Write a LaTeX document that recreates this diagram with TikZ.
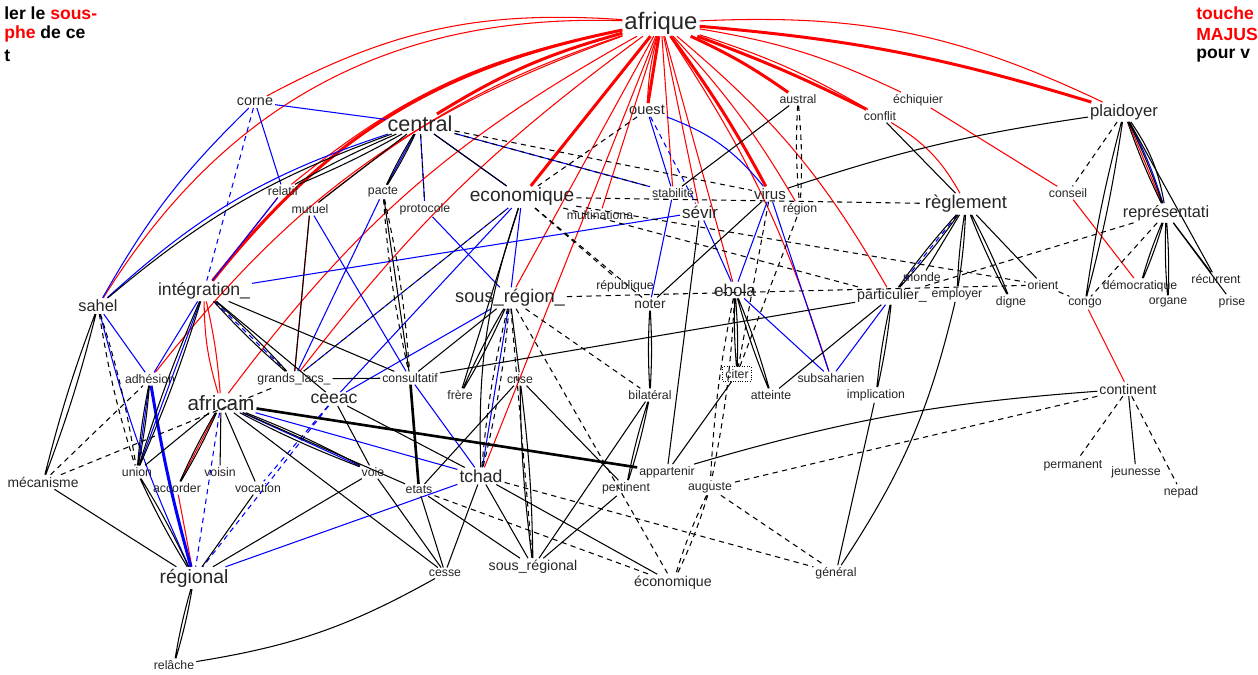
\documentclass[tikz,border=0pt]{standalone}
\usepackage{fontspec}
\setmainfont{Liberation Sans}
\usetikzlibrary{backgrounds}

\begin{document}
\begin{tikzpicture}[
    % one unit is one pixel of the reference
    x=0.02cm, y=-0.02cm,
    % Define the style for the words
    word/.style={inner sep=1pt, text=black!85},
    citebox/.style={word, draw, densely dotted, inner sep=1.5pt},
    hint/.style={anchor=west, inner sep=0pt, font=\bfseries\fontsize{10}{12}\selectfont},
    % Define the styles for the links
    link/.style={line width=0.6pt},
    rl/.style={link, red},
    rk/.style={red, line width=1.7pt},
    bl/.style={link, blue},
    bk/.style={blue, line width=1.7pt},
    bd/.style={link, blue, dash pattern=on 3pt off 2.5pt},
    kl/.style={link, black},
    kd/.style={link, black, dash pattern=on 3pt off 2.5pt},
    kk/.style={black, line width=1.5pt}
]

    \useasboundingbox (0,0) rectangle (1258,675);

    % --- The words ---
    \foreach \n/\x/\y/\s/\t in {
        afrique/661/23/13.6/afrique, central/420/124/12.3/central,
        africain/221/403/11.8/africain, economique/522/197/10.9/economique,
        regional/194/578/11/régional, integration/204/291/10/intégration\_,
        sousregion/510/298/10.4/sous\_région\_, reglement/966/204/10.5/règlement,
        ceeac/334/399/10/ceeac, tchad/481/476/10/tchad,
        ebola/735/290/9.7/ebola, sevir/700/212/9.7/sévir,
        plaidoyer/1124/112/9.5/plaidoyer, sahel/98/306/9.3/sahel,
        represent/1166/213/9.3/représentati, virus/770/194/8.6/virus,
        corne/255/102/8.2/corne, ouest/647/110/8.3/ouest,
        noter/650/304/7.8/noter, particulier/892/296/8.1/particulier\_,
        continent/1128/389/8/continent, mecanisme/43/482/7.9/mécanisme,
        sousregional/533/567/8.1/sous\_régional, econ/673/583/8.1/économique,
        austral/798/99/7/austral, echiquier/918/100/7/échiquier,
        conflit/880/116/7/conflit, relatif/283/191/7/relatif,
        mutuel/310/209/7/mutuel, pacte/383/192/7/pacte,
        protocole/425/209/7/protocole, multi/600/215/7/multinationa,
        stabilite/673/193/7/stabilité, region/800/209/7/région,
        conseil/1068/193/7/conseil, republique/625/286/7/république,
        monde/922/277/7/monde, employer/957/294/7/employer,
        orient/1043/285/7/orient, digne/1011/302/7/digne,
        congo/1085/303/7/congo, democratique/1140/286/7/démocratique,
        organe/1168/302/7/organe, recurrent/1216/279/7/récurrent,
        prise/1232/302/7/prise, adhesion/150/379/7/adhésion,
        grandslacs/294/379/7/grands\_lacs\_, consultatif/410/378/7/consultatif,
        frere/460/395/7/frère, crise/520/379/7/crise,
        bilateral/650/395/7/bilatéral, atteinte/771/395/7/atteinte,
        subsaharien/831/378/7/subsaharien, implication/876/395/7/implication,
        union/137/472/7/union, accorder/177/488/7/accorder,
        voisin/220/472/7/voisin, vocation/258/488/7/vocation,
        voie/373/472/7/voie, etats/419/490/7/etats,
        appartenir/667/472/7/appartenir, pertinent/626/488/7/pertinent,
        auguste/710/488/7/auguste, permanent/1073/466/7/permanent,
        jeunesse/1136/472/7/jeunesse, nepad/1181/492/7/nepad,
        cesse/445/573/7/cesse, general/836/573/7/général,
        relache/174/665/7/relâche} {
        \node[word, font=\fontsize{\s}{\s}\selectfont] (\n) at (\x,\y) {\t};
    }
    \node[citebox, font=\fontsize{7}{7}\selectfont] (citer) at (737,374) {citer};

    % --- Hints in the corners ---
    \node[hint] (hintL1) at (4,13) {ler le \textcolor{red}{sous-}};
    \node[hint] (hintL2) at (4,34) {\textcolor{red}{phe} de ce};
    \node[hint] (hintL3) at (4,56) {t};
    \node[hint, text=red] (hintR1) at (1196,13) {touche};
    \node[hint, text=red] (hintR2) at (1196,34) {MAJUS};
    \node[hint] (hintR3) at (1196,56) {pour v};

    \begin{scope}[on background layer]
    \fill[white] (0,0) rectangle (1258,675);

    % --- Red links from afrique ---
    \foreach \b/\k in {corne/16, sahel/30, relatif/14, mutuel/10, grandslacs/8, africain/12, adhesion/16}
        \draw[rl] (afrique) to[bend right=\k] (\b);
    \foreach \b/\k in {integration/20, central/8}
        \draw[rk] (afrique) to[bend right=\k] (\b);
    \foreach \b in {multi, sousregion, tchad, stabilite, sevir, ebola}
        \draw[rl] (afrique) -- (\b);
    \draw[rl] (afrique) to[bend right=6] (ouest);
    \foreach \b in {economique, ouest}
        \draw[rk] (afrique) -- (\b);
    \foreach \b/\k in {region/6, subsaharien/8, particulier/10, echiquier/8, conflit/6, plaidoyer/14}
        \draw[rl] (afrique) to[bend left=\k] (\b);
    \foreach \b/\k in {virus/4, austral/5, conflit/3, plaidoyer/6}
        \draw[rk] (afrique) to[bend left=\k] (\b);

    % --- Other red links ---
    \foreach \a/\b in {echiquier/conseil, conseil/democratique, congo/continent, plaidoyer/represent,
        africain/accorder, accorder/regional, mutuel/grandslacs, relatif/integration}
        \draw[rl] (\a) -- (\b);
    \draw[rl] (conflit) to[bend left=15] (reglement);
    \draw[rl] (integration) to[bend left=4] (africain) (integration) to[bend right=8] (africain);

    % --- Blue links ---
    \foreach \a/\b in {corne/central, central/stabilite, corne/relatif, central/pacte, central/protocole,
        central/economique, sevir/integration, ouest/stabilite, stabilite/noter, sevir/ebola,
        virus/ebola, virus/subsaharien, ebola/subsaharien, particulier/subsaharien,
        integration/adhesion, sahel/adhesion, adhesion/union, africain/voie, africain/tchad,
        tchad/regional, sousregion/ceeac, sousregion/tchad, consultatif/tchad, economique/ceeac,
        mutuel/consultatif, pacte/grandslacs, protocole/sousregion, economique/sousregion,
        integration/union, relatif/integration}
        \draw[bl] (\a) -- (\b);
    \draw[bl] (plaidoyer) to[bend left=5] (represent);
    \draw[bl] (central) to[bend right=12] (sahel);
    \draw[bl] (corne) to[bend right=8] (sahel);
    \draw[bl] (ouest) to[bend left=15] (virus);
    \draw[bl] (sahel) to[bend right=5] (regional);
    \draw[bk] (adhesion) to[bend right=3] (regional);
    \foreach \a/\b in {ouest/sevir, reglement/particulier, integration/grandslacs, ceeac/vocation,
        ceeac/regional, africain/regional, corne/integration, economique/grandslacs}
        \draw[bd] (\a) -- (\b);

    % --- Black links ---
    \foreach \a/\b in {central/economique, central/mutuel, austral/stabilite, conflit/reglement,
        plaidoyer/recurrent, reglement/monde, reglement/orient, represent/recurrent, represent/prise,
        mecanisme/regional, integration/ceeac, integration/consultatif, grandslacs/consultatif,
        mutuel/grandslacs, pacte/consultatif, economique/frere, sevir/appartenir, virus/noter,
        bilateral/sousregional, sousregion/consultatif, sousregion/crise, crise/etats,
        particulier/consultatif, particulier/atteinte, implication/general, citer/appartenir,
        tchad/econ, pertinent/sousregional, africain/cesse, africain/vocation, africain/voisin,
        africain/union, africain/etats, voie/cesse, etats/cesse, etats/sousregional, tchad/cesse,
        ceeac/voie, ceeac/tchad, voie/regional, vocation/regional, continent/jeunesse,
        crise/pertinent, tchad/sousregional}
        \draw[kl] (\a) -- (\b);
    \foreach \a/\b in {central/relatif, central/pacte, sahel/mecanisme, plaidoyer/congo,
        plaidoyer/represent, reglement/particulier, reglement/employer, reglement/digne,
        represent/democratique, represent/organe, adhesion/union, integration/union,
        integration/grandslacs, noter/bilateral, bilateral/pertinent, sousregion/frere,
        crise/sousregional, particulier/implication, citer/ebola, ebola/atteinte,
        africain/voie, africain/accorder, regional/relache, union/regional}
        \draw[kl] (\a) to[bend left=3] (\b) (\a) to[bend right=3] (\b);
    \draw[kl] (plaidoyer) to[bend left=12] (represent);
    \draw[kl] (economique) to[bend right=10] (tchad);
    \draw[kl] (plaidoyer) to[bend right=5] (virus);
    \draw[kl] (employer) to[bend left=10] (general);
    \draw[kl] (continent) to[bend right=6] (appartenir);
    \draw[kl] (relache) to[bend right=10] (cesse);
    \draw[kl] (central) to[bend right=10] (sahel);
    \foreach \a/\b in {central/protocole, central/virus, central/stabilite, ouest/economique,
        plaidoyer/conseil, economique/reglement, sousregion/orient, represent/congo,
        represent/particulier, orient/congo, mecanisme/adhesion, mecanisme/grandslacs,
        grandslacs/economique, sousregion/econ, sousregion/sousregional, continent/auguste,
        continent/permanent, continent/nepad, auguste/general, tchad/general, virus/citer,
        economique/republique, economique/particulier, economique/orient, economique/noter,
        region/citer, sousregion/bilateral, etats/econ}
        \draw[kd] (\a) -- (\b);
    \foreach \a/\b in {austral/region, sahel/union, sousregion/tchad, ebola/auguste, auguste/econ, pacte/consultatif}
        \draw[kd] (\a) to[bend left=4] (\b) (\a) to[bend right=4] (\b);
    \draw[kk] (africain) -- (appartenir);
    \draw[kk] (consultatif) -- (etats);
    \end{scope}

\end{tikzpicture}
\end{document}
